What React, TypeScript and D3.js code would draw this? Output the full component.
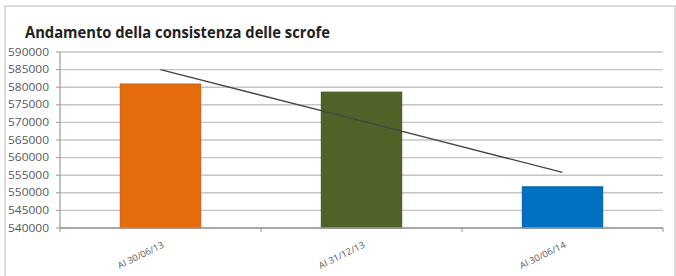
import React from 'react';
import * as d3 from 'd3';

const categories = ['Al 30/06/13', 'Al 31/12/13', 'Al 30/06/14'];
const values = [580900, 578600, 551700];
const barColors = ['#E46C0A', '#4F6228', '#0070C0'];
const yTicks = [540000, 545000, 550000, 555000, 560000, 565000, 570000, 575000, 580000, 585000, 590000];
const title = 'Andamento della consistenza delle scrofe';

const App = () => {
  const width = 676;
  const height = 276;
  const margin = { top: 52, right: 13, bottom: 48, left: 60 };

  const x = d3.scaleBand()
    .domain(categories)
    .range([margin.left, width - margin.right])
    .paddingInner(0.6)
    .paddingOuter(0.3);

  const y = d3.scaleLinear()
    .domain([540000, 590000])
    .range([height - margin.bottom, margin.top]);

  // linear trend line (least squares over category index)
  const n = values.length;
  const meanX = (n - 1) / 2;
  const meanY = d3.mean(values) as number;
  const slope = d3.sum(values, (v, i) => (i - meanX) * (v - meanY)) /
    d3.sum(values, (_, i) => (i - meanX) ** 2);
  const trend = values.map((_, i) => meanY + slope * (i - meanX));
  const cx = (c: string) => (x(c) as number) + x.bandwidth() / 2;
  const line = d3.line<number>()
    .x((_, i) => cx(categories[i]))
    .y(d => y(d));

  const boundaries = d3.range(n + 1).map(i => margin.left + i * (width - margin.left - margin.right) / n);

  return (
    <svg width={width} height={height} style={{ position: 'absolute', left: 0, top: 0, background: '#fff' }}>
      <rect x={5} y={6} width={670} height={290} fill="#fff" stroke="#d0d0d0" strokeWidth={1.5} />
      <text x={25} y={38} fontFamily="Open Sans, sans-serif" fontWeight="bold" fontSize={16} fill="#222"
        textLength={305} lengthAdjust="spacingAndGlyphs">{title}</text>

      {/* gridlines */}
      {yTicks.map(t => (
        <line key={t} x1={margin.left} x2={width - margin.right} y1={y(t)} y2={y(t)}
          stroke="#c4c4c4" strokeWidth={1.4} />
      ))}

      {/* y axis */}
      <line x1={margin.left} x2={margin.left} y1={y(540000)} y2={y(590000)} stroke="#9a9a9a" strokeWidth={1.2} />
      {yTicks.map(t => (
        <g key={'yt' + t}>
          <line x1={margin.left - 4} x2={margin.left} y1={y(t)} y2={y(t)} stroke="#9a9a9a" />
          <text x={49} y={y(t)} dy="0.35em" textAnchor="end" fontFamily="Open Sans, sans-serif"
            fontSize={10.5} fill="#595959" textLength={41} lengthAdjust="spacingAndGlyphs">{t}</text>
        </g>
      ))}

      {/* bars */}
      {categories.map((c, i) => (
        <rect key={c} x={x(c)} y={y(values[i])} width={x.bandwidth()} height={y(540000) - y(values[i])}
          fill={barColors[i]} stroke={d3.color(barColors[i])!.darker(0.4).toString()} strokeWidth={1} />
      ))}

      {/* x axis */}
      <line x1={margin.left} x2={width - margin.right} y1={y(540000)} y2={y(540000)} stroke="#9a9a9a" strokeWidth={1.4} />
      {boundaries.map((b, i) => (
        <line key={'xt' + i} x1={b} x2={b} y1={y(540000)} y2={y(540000) + 4} stroke="#9a9a9a" />
      ))}
      {categories.map(c => (
        <text key={'xl' + c} transform={`translate(${cx(c) + 4},${y(540000) + 19}) rotate(-26)`}
          textAnchor="end" fontFamily="Open Sans, sans-serif" fontSize={9} fill="#595959"
          textLength={50} lengthAdjust="spacingAndGlyphs">{c}</text>
      ))}

      {/* trend line */}
      <path d={line(trend) as string} fill="none" stroke="#454545" strokeWidth={1.3} />
    </svg>
  );
};

export default App;
